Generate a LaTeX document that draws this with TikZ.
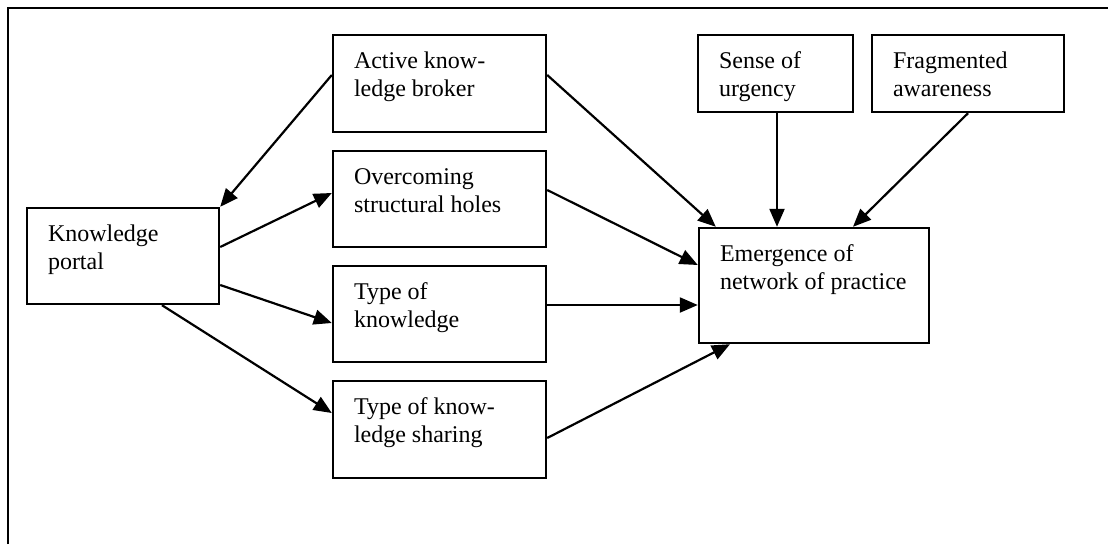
\documentclass[tikz,border=0pt]{standalone}
\usepackage{fontspec}
\setmainfont{Liberation Serif}
\usetikzlibrary{arrows.meta}

% boxed text: fixed width and height, text set from the top
\newcommand{\boxtxt}[3]{\parbox[c][#2][t]{#1}{\rule{0pt}{33pt}#3}}

\begin{document}
\begin{tikzpicture}[x=1pt,y=-1pt,
  box/.style={draw,line width=2.4pt,inner xsep=21pt,inner ysep=0pt,
    font=\fontsize{24pt}{28pt}\selectfont,align=left},
  link/.style={line width=2.2pt,-{Triangle[length=18pt,width=15pt]}}]

\useasboundingbox (0,0) rectangle (1108,544);
\fill[white] (0,0) rectangle (1108,544);

% open frame around the figure
\draw[line width=2.8pt] (8,544) -- (8,8) -- (1108,8);

% boxes
\node[box] (kp)  at (123,256)   {\boxtxt{150pt}{96pt}{Knowledge\\portal}};
\node[box] (ab)  at (439.5,83.5) {\boxtxt{171pt}{97pt}{Active know-\\ledge broker}};
\node[box] (osh) at (439.5,199) {\boxtxt{171pt}{96pt}{Overcoming\\structural holes}};
\node[box] (tk)  at (439.5,314) {\boxtxt{171pt}{96pt}{Type of\\knowledge}};
\node[box] (tks) at (439.5,429.5) {\boxtxt{171pt}{97pt}{Type of know-\\ledge sharing}};
\node[box] (su)  at (775.5,73.5) {\boxtxt{113pt}{77pt}{Sense of\\urgency}};
\node[box] (fa)  at (968,73.5)  {\boxtxt{150pt}{77pt}{Fragmented\\awareness}};
\node[box] (enp) at (814,285.5) {\boxtxt{188pt}{115pt}{Emergence of\\network of practice}};

% connectors
\draw[link] ([yshift=8.5pt]ab.west) -- (kp.north east);
\draw[link] ([yshift=9pt]kp.east) -- ([yshift=6pt]osh.west);
\draw[link] ([yshift=-29pt]kp.east) -- ([yshift=-9pt]tk.west);
\draw[link] ([xshift=39pt]kp.south) -- ([yshift=16.5pt]tks.west);

\draw[link] ([yshift=8.5pt]ab.east) -- ([xshift=18pt]enp.north west);
\draw[link] ([yshift=9pt]osh.east) -- ([yshift=20.5pt]enp.west);
\draw[link] ([yshift=9pt]tk.east) -- ([yshift=9pt]tk.east -| enp.west);
\draw[link] ([yshift=-8.5pt]tks.east) -- ([xshift=-84pt]enp.south);
\draw[link] ([xshift=1.5pt]su.south) -- ([xshift=1.5pt]su.south |- enp.north);
\draw[link] (fa.south) -- ([xshift=39pt]enp.north);

\end{tikzpicture}
\end{document}
